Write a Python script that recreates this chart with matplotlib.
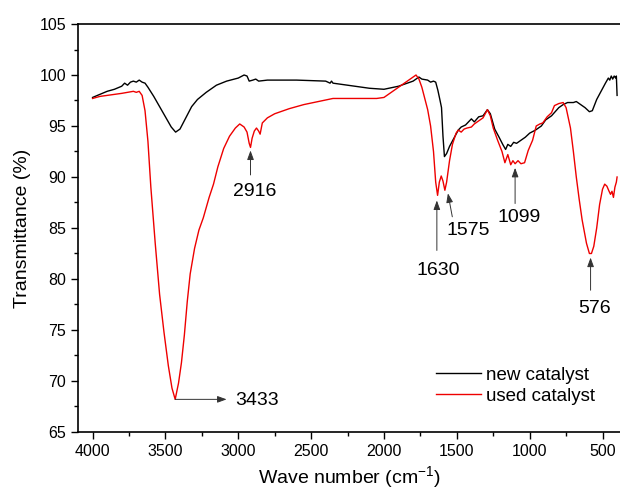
import numpy as np
import matplotlib
matplotlib.use("Agg")
import matplotlib.pyplot as plt
from matplotlib.ticker import MultipleLocator

plt.rcParams['font.family'] = ['Liberation Sans', 'DejaVu Sans']
plt.rcParams['mathtext.fontset'] = 'custom'
plt.rcParams['mathtext.rm'] = 'Liberation Sans'
plt.rcParams['mathtext.it'] = 'Liberation Sans:italic'

# new catalyst spectrum (wavenumber cm-1, transmittance %)
new_wn = [4000, 3950, 3900, 3850, 3800, 3780, 3760, 3740, 3720, 3700, 3680, 3660,
          3640, 3620, 3580, 3540, 3500, 3460, 3430, 3400, 3360, 3320, 3280, 3220,
          3150, 3080, 3000, 2960, 2940, 2925, 2900, 2880, 2860, 2800, 2600, 2400,
          2370, 2360, 2350, 2300, 2200, 2100, 2000, 1900, 1800, 1760, 1740, 1700,
          1680, 1660, 1645, 1630, 1615, 1605, 1595, 1585, 1570, 1550, 1520, 1490,
          1470, 1440, 1420, 1400, 1380, 1350, 1320, 1290, 1270, 1240, 1210, 1185,
          1165, 1150, 1130, 1110, 1090, 1060, 1030, 1000, 960, 920, 890, 850, 800,
          770, 740, 700, 680, 660, 620, 590, 570, 540, 510, 480, 460, 450, 440,
          430, 420, 410, 405, 400]
new_t = [97.8, 98.1, 98.4, 98.6, 98.9, 99.2, 99.0, 99.3, 99.4, 99.3, 99.5, 99.3,
         99.2, 98.8, 97.9, 96.9, 95.9, 94.9, 94.4, 94.7, 95.8, 96.9, 97.6, 98.3,
         99.0, 99.4, 99.7, 100.0, 99.9, 99.4, 99.5, 99.6, 99.4, 99.5, 99.5, 99.4,
         99.2, 99.4, 99.2, 99.1, 98.9, 98.7, 98.6, 98.9, 99.4, 99.8, 99.6, 99.5,
         99.3, 99.4, 99.3, 98.5, 97.5, 96.8, 94.0, 92.0, 92.3, 93.0, 93.8, 94.6,
         94.9, 95.1, 95.4, 95.7, 95.4, 95.9, 96.0, 96.6, 96.2, 94.7, 93.9, 93.2,
         92.7, 93.2, 93.0, 93.4, 93.3, 93.6, 93.9, 94.3, 94.6, 95.0, 95.6, 96.0, 96.8,
         97.1, 97.3, 97.3, 97.4, 97.2, 96.8, 96.4, 96.5, 97.6, 98.4, 99.2, 99.7, 99.5, 99.9,
         99.6, 99.9, 99.7, 99.9, 98.0]

# used catalyst spectrum
used_wn = [4000, 3950, 3900, 3850, 3800, 3760, 3720, 3700, 3680, 3660, 3640, 3620,
           3600, 3570, 3540, 3510, 3480, 3455, 3433, 3410, 3390, 3370, 3350, 3330,
           3300, 3270, 3240, 3200, 3170, 3140, 3100, 3060, 3020, 2990, 2960, 2940,
           2925, 2916, 2905, 2890, 2875, 2860, 2850, 2835, 2800, 2750, 2650, 2550,
           2450, 2350, 2200, 2050, 2000, 1950, 1900, 1850, 1800, 1780, 1760, 1740,
           1720, 1700, 1680, 1660, 1645, 1632, 1620, 1607, 1595, 1582, 1570, 1550,
           1530, 1505, 1490, 1470, 1450, 1430, 1400, 1380, 1350, 1320, 1290, 1270,
           1250, 1220, 1190, 1170, 1150, 1130, 1115, 1100, 1080, 1060, 1035, 1010,
           980, 955, 930, 910, 880, 850, 830, 800, 770, 750, 720, 700, 680, 660,
           640, 610, 590, 576, 560, 540, 520, 500, 485, 470, 455, 445, 435, 425,
           415, 405, 400]
used_t = [97.7, 97.9, 98.0, 98.1, 98.2, 98.3, 98.4, 98.3, 98.4, 98.0, 96.5, 93.5,
          89.0, 83.5, 78.5, 74.8, 71.5, 69.3, 68.2, 69.8, 71.8, 74.5, 77.8, 80.5,
          83.0, 84.8, 86.0, 88.0, 89.3, 91.0, 92.8, 94.0, 94.8, 95.2, 94.9, 94.4,
          93.3, 92.9, 93.8, 94.5, 94.8, 94.5, 94.2, 95.3, 95.8, 96.2, 96.7, 97.1,
          97.4, 97.7, 97.7, 97.7, 97.8, 98.3, 98.8, 99.3, 99.8, 100.0, 99.6, 98.8,
          97.7, 96.6, 95.0, 92.5, 89.5, 88.2, 89.5, 90.1, 89.6, 88.7, 89.5, 91.6,
          93.2, 94.3, 94.6, 94.4, 94.7, 94.8, 94.9, 95.2, 95.5, 95.8, 96.6, 96.0,
          94.8, 93.6, 92.5, 91.4, 92.2, 91.2, 91.6, 91.3, 91.6, 91.3, 91.4, 92.6,
          93.6, 95.0, 95.2, 95.3, 95.9, 96.3, 97.0, 97.2, 97.3, 96.8, 94.8, 92.5,
          90.0, 87.8, 85.8, 83.5, 82.5, 82.5, 83.2, 85.0, 87.3, 88.8, 89.3, 89.1,
          88.6, 88.3, 88.6, 88.0, 89.0, 89.5, 90.0]

# peak labels: text, arrow tail, arrow tip, text position
peak_labels = ['2916', '1630', '1575', '1099', '576']
arrow_tail = [(2916, 90.2), (1637, 82.8), (1531, 86.1), (1100, 87.4), (582, 78.9)]
arrow_tip = [(2916, 92.6), (1637, 87.7), (1561, 88.4), (1100, 90.9), (582, 82.1)]
label_pos = [(2889, 88.6), (1625, 80.8), (1419, 84.8), (1069, 86.0), (555, 77.1)]

fig = plt.figure(figsize=(6.2, 4.92), dpi=100)
ax = fig.add_axes([78 / 620, 60 / 492, 542 / 620, 408 / 492])

ax.plot(new_wn, new_t, color='black', lw=1.0, label='new catalyst')
ax.plot(used_wn, used_t, color='#ee0000', lw=1.0, label='used catalyst')

arrow_kw = dict(arrowstyle='-|>,head_length=0.55,head_width=0.2', color='#333333', lw=0.7,
                shrinkA=0, shrinkB=0)
for lab, tail, tip, pos in zip(peak_labels, arrow_tail, arrow_tip, label_pos):
    ax.annotate('', xy=tip, xytext=tail, arrowprops=arrow_kw)
    ax.text(pos[0], pos[1], lab, fontsize=14, ha='center', va='center')

ax.annotate('', xy=(3080, 68.2), xytext=(3433, 68.2), arrowprops=arrow_kw)
ax.text(3018, 68.1, '3433', fontsize=14, ha='left', va='center')

ax.set_xlim(4100, 380)
ax.set_ylim(65, 105)
ax.xaxis.set_major_locator(MultipleLocator(500))
ax.xaxis.set_minor_locator(MultipleLocator(250))
ax.yaxis.set_major_locator(MultipleLocator(5))
ax.yaxis.set_minor_locator(MultipleLocator(2.5))
ax.tick_params(which='both', direction='out', labelsize=11.5, width=1.0)
ax.tick_params(which='major', length=5)
ax.tick_params(which='minor', length=3)
ax.spines['right'].set_visible(False)
for s in ['top', 'left', 'bottom']:
    ax.spines[s].set_linewidth(1.2)

ax.set_xlabel('Wave number (cm$^{-1}$)', fontsize=14, labelpad=4)
ax.set_ylabel('Transmittance (%)', fontsize=14, labelpad=6)

ax.legend(loc='lower right', bbox_to_anchor=(0.985, 0.025), frameon=False, fontsize=13.5,
          handlelength=2.4, handletextpad=0.25, labelspacing=0.2)

fig.savefig('out.png', dpi=100)
